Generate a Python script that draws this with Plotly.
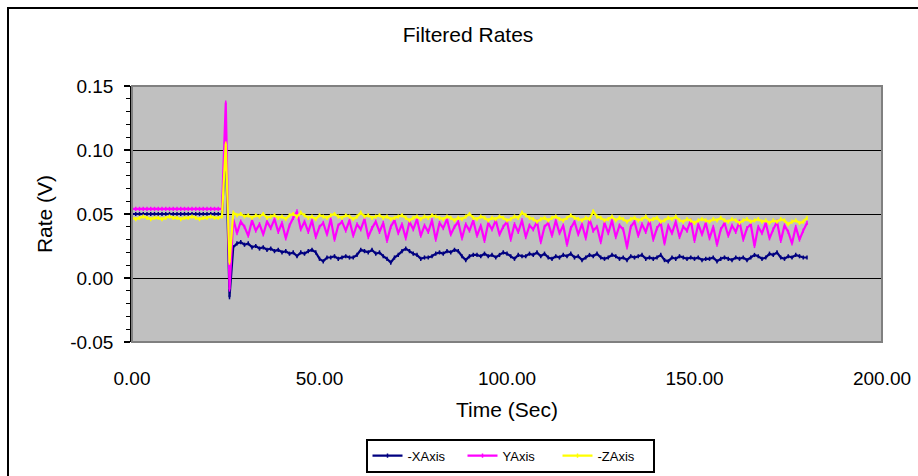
import plotly.graph_objects as go

# Sample times in seconds (one reading per second)
time_sec = list(range(0, 181))

# -X axis rate (V)
x_axis_rate = [
    0.050, 0.050, 0.050, 0.050, 0.050, 0.050, 0.050, 0.050, 0.050, 0.050,
    0.050, 0.050, 0.050, 0.050, 0.050, 0.050, 0.050, 0.050, 0.050, 0.050,
    0.050, 0.050, 0.050, 0.050, 0.050, 0.107, -0.015,
    0.024, 0.027, 0.028, 0.026, 0.027, 0.024, 0.025, 0.023, 0.024, 0.022,
    0.023, 0.021, 0.022, 0.020, 0.021, 0.019, 0.020, 0.017, 0.020, 0.019,
    0.021, 0.022, 0.020, 0.015, 0.013, 0.016, 0.016, 0.017, 0.015, 0.016,
    0.017, 0.016, 0.016, 0.018, 0.022, 0.021, 0.020, 0.022, 0.019, 0.020,
    0.017, 0.015, 0.012, 0.016, 0.018, 0.021, 0.023, 0.021, 0.019, 0.018,
    0.015, 0.016, 0.016, 0.017, 0.019, 0.020, 0.019, 0.021, 0.020, 0.022,
    0.021, 0.017, 0.014, 0.017, 0.018, 0.018, 0.017, 0.019, 0.017, 0.018,
    0.016, 0.018, 0.020, 0.019, 0.017, 0.015, 0.018, 0.017, 0.017, 0.019,
    0.018, 0.020, 0.017, 0.019, 0.016, 0.015, 0.017, 0.016, 0.018, 0.017,
    0.019, 0.016, 0.017, 0.014, 0.016, 0.018, 0.017, 0.019, 0.016, 0.015,
    0.016, 0.018, 0.017, 0.015, 0.016, 0.014, 0.017, 0.016, 0.017, 0.018,
    0.015, 0.016, 0.015, 0.016, 0.018, 0.014, 0.013, 0.016, 0.015, 0.017,
    0.016, 0.015, 0.016, 0.015, 0.016, 0.014, 0.015, 0.015, 0.016, 0.013,
    0.015, 0.016, 0.015, 0.014, 0.016, 0.015, 0.016, 0.014, 0.016, 0.018,
    0.017, 0.015, 0.016, 0.019, 0.018, 0.020, 0.016, 0.015, 0.017, 0.016,
    0.018, 0.017, 0.016, 0.016,
]

# Y axis rate (V)
y_axis_rate = [
    0.054, 0.054, 0.054, 0.054, 0.054, 0.054, 0.054, 0.054, 0.054, 0.054,
    0.054, 0.054, 0.054, 0.054, 0.054, 0.054, 0.054, 0.054, 0.054, 0.054,
    0.054, 0.054, 0.054, 0.054, 0.054, 0.137, -0.009,
    0.046, 0.035, 0.044, 0.040, 0.033, 0.045, 0.037, 0.042, 0.034, 0.044,
    0.039, 0.046, 0.036, 0.043, 0.031, 0.041, 0.047, 0.052, 0.038, 0.044,
    0.036, 0.045, 0.032, 0.040, 0.043, 0.034, 0.046, 0.030, 0.041, 0.044,
    0.037, 0.045, 0.033, 0.042, 0.038, 0.046, 0.032, 0.039, 0.044, 0.036,
    0.043, 0.029, 0.040, 0.045, 0.035, 0.042, 0.031, 0.044, 0.038, 0.046,
    0.033, 0.041, 0.036, 0.045, 0.030, 0.043, 0.039, 0.046, 0.034, 0.040,
    0.044, 0.031, 0.042, 0.037, 0.045, 0.033, 0.041, 0.029, 0.043, 0.038,
    0.045, 0.034, 0.040, 0.044, 0.030, 0.042, 0.036, 0.045, 0.032, 0.041,
    0.038, 0.044, 0.028, 0.040, 0.043, 0.033, 0.045, 0.035, 0.041, 0.026,
    0.039, 0.044, 0.034, 0.042, 0.031, 0.046, 0.037, 0.040, 0.028, 0.043,
    0.035, 0.045, 0.032, 0.041, 0.038, 0.024, 0.040, 0.044, 0.033, 0.042,
    0.036, 0.045, 0.030, 0.039, 0.043, 0.027, 0.041, 0.035, 0.044, 0.032,
    0.040, 0.037, 0.045, 0.029, 0.042, 0.034, 0.043, 0.031, 0.040, 0.026,
    0.038, 0.043, 0.033, 0.041, 0.036, 0.044, 0.030, 0.039, 0.042, 0.025,
    0.040, 0.035, 0.043, 0.031, 0.038, 0.044, 0.029, 0.041, 0.036, 0.027,
    0.040, 0.030, 0.037, 0.043,
]

# -Z axis rate (V)
z_axis_rate = [
    0.047, 0.046, 0.047, 0.048, 0.047, 0.046, 0.047, 0.047, 0.046, 0.047,
    0.048, 0.047, 0.047, 0.046, 0.047, 0.047, 0.048, 0.047, 0.046, 0.047,
    0.047, 0.048, 0.047, 0.047, 0.048, 0.105, 0.012,
    0.051, 0.049, 0.050, 0.048, 0.049, 0.047, 0.049, 0.048, 0.050, 0.047,
    0.048, 0.049, 0.047, 0.048, 0.046, 0.049, 0.050, 0.048, 0.051, 0.049,
    0.047, 0.048, 0.046, 0.049, 0.048, 0.047, 0.049, 0.050, 0.048, 0.047,
    0.049, 0.048, 0.046, 0.048, 0.051, 0.048, 0.049, 0.047, 0.048, 0.049,
    0.047, 0.048, 0.046, 0.047, 0.048, 0.049, 0.047, 0.045, 0.047, 0.048,
    0.046, 0.048, 0.047, 0.049, 0.048, 0.047, 0.046, 0.048, 0.047, 0.045,
    0.047, 0.046, 0.048, 0.050, 0.047, 0.046, 0.048, 0.047, 0.045, 0.047,
    0.046, 0.048, 0.047, 0.045, 0.046, 0.048, 0.047, 0.051, 0.049, 0.047,
    0.046, 0.044, 0.046, 0.047, 0.045, 0.047, 0.048, 0.046, 0.045, 0.047,
    0.049, 0.047, 0.046, 0.045, 0.047, 0.046, 0.052, 0.048, 0.047, 0.045,
    0.046, 0.048, 0.045, 0.047, 0.046, 0.044, 0.046, 0.047, 0.045, 0.046,
    0.048, 0.045, 0.046, 0.047, 0.044, 0.045, 0.047, 0.046, 0.048, 0.045,
    0.044, 0.046, 0.045, 0.043, 0.045, 0.046, 0.045, 0.044, 0.046, 0.045,
    0.047, 0.045, 0.044, 0.046, 0.045, 0.043, 0.045, 0.046, 0.044, 0.045,
    0.046, 0.044, 0.045, 0.043, 0.045, 0.044, 0.046, 0.045, 0.042, 0.044,
    0.045, 0.043, 0.044, 0.047,
]

series_names = ["-XAxis", "YAxis", "-ZAxis"]
series_colors = ["#000080", "#FF00FF", "#FFFF00"]

x_tick_values = [0, 50, 100, 150, 200]
x_tick_labels = ["0.00", "50.00", "100.00", "150.00", "200.00"]
y_tick_values = [-0.05, 0.0, 0.05, 0.10, 0.15]
y_tick_labels = ["-0.05", "0.00", "0.05", "0.10", "0.15"]

FONT = "Liberation Sans, Arial, sans-serif"

fig = go.Figure()
for name, values, color in zip(series_names, [x_axis_rate, y_axis_rate, z_axis_rate], series_colors):
    fig.add_trace(go.Scatter(
        x=time_sec, y=values, name=name, mode="lines+markers",
        line=dict(color=color, width=2.2),
        marker=dict(symbol="line-ns", size=3, color=color, line=dict(color=color, width=1.5)),
    ))

fig.update_layout(
    width=918, height=476,
    margin=dict(l=132, r=36, t=86, b=134, autoexpand=False),
    paper_bgcolor="white",
    plot_bgcolor="#C0C0C0",
    font=dict(family=FONT, color="black", size=19),
    title=dict(text="Filtered Rates", x=468 / 918, xanchor="center",
               y=1 - 35 / 476, yanchor="middle",
               font=dict(family=FONT, size=21, color="black")),
    showlegend=True,
    legend=dict(orientation="h", x=0.504, xanchor="center", y=-0.378, yanchor="top",
                bordercolor="black", borderwidth=2, bgcolor="white",
                font=dict(family=FONT, size=13, color="black"),
                itemwidth=30, tracegroupgap=0, entrywidth=50, entrywidthmode="pixels"),
    xaxis=dict(
        range=[0, 200], tickvals=x_tick_values, ticktext=x_tick_labels,
        showgrid=False, zeroline=False, showline=False, ticks="",
        ticklabelstandoff=23, automargin=False,
        title=dict(text="Time (Sec)", font=dict(family=FONT, size=21), standoff=14),
    ),
    xaxis2=dict(
        overlaying="x", anchor="free", position=0.25, range=[0, 200],
        showgrid=False, zeroline=False, showline=True, linecolor="black", linewidth=1.5,
        ticks="outside", tickmode="linear", tick0=0, dtick=10, ticklen=5,
        tickcolor="black", tickwidth=1.5, showticklabels=False,
    ),
    yaxis=dict(
        range=[-0.05, 0.15], tickvals=y_tick_values, ticktext=y_tick_labels,
        showgrid=True, gridcolor="black", gridwidth=1,
        zeroline=False, showline=True, linecolor="black", linewidth=1.5,
        ticks="outside", ticklen=6, tickwidth=1.5, tickcolor="black",
        ticklabelstandoff=7, automargin=False,
        minor=dict(dtick=0.01, tick0=0, ticks="outside", ticklen=4, tickcolor="black", tickwidth=1, showgrid=False),
        title=dict(text="Rate (V)", font=dict(family=FONT, size=21), standoff=12),
    ),
    shapes=[
        # plot area frame
        dict(type="rect", xref="paper", yref="paper", x0=0, x1=1, y0=0, y1=1,
             line=dict(color="#808080", width=2), layer="above"),
        # chart frame
        dict(type="rect", xref="paper", yref="paper",
             x0=(8 - 132) / 750, x1=(930 - 132) / 750,
             y0=(342 - 490) / 256, y1=(342 - 8) / 256,
             line=dict(color="black", width=2), layer="above"),
    ],
)
fig.update_yaxes(layer="above traces")

fig.write_html("out.html")
